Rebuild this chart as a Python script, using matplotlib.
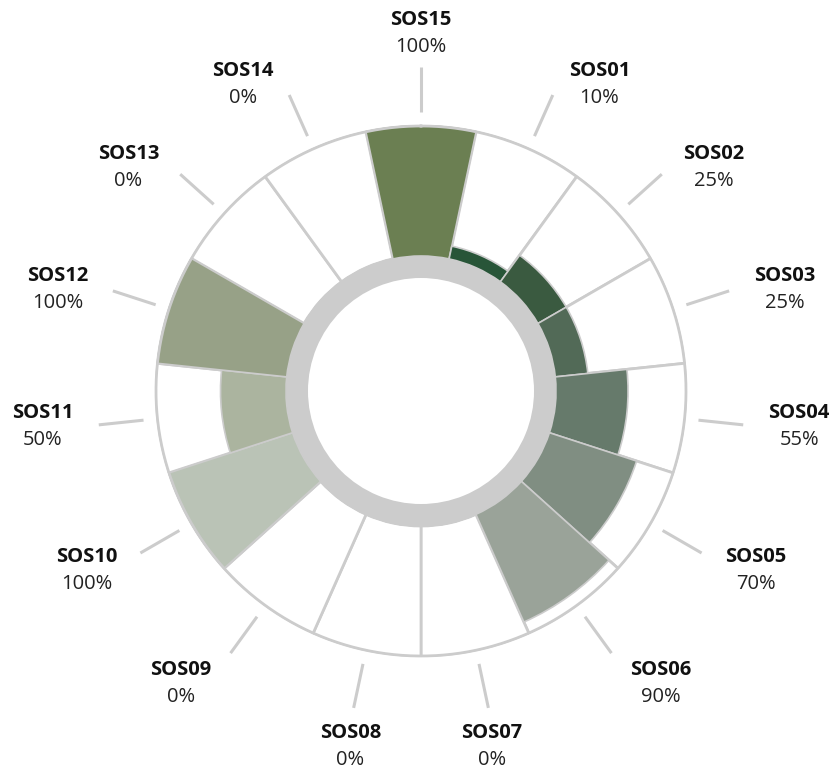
import numpy as np
import matplotlib
matplotlib.use('Agg')
import matplotlib.pyplot as plt

# categories, clockwise from the top
categories = ['SOS15', 'SOS01', 'SOS02', 'SOS03', 'SOS04', 'SOS05', 'SOS06', 'SOS07',
              'SOS08', 'SOS09', 'SOS10', 'SOS11', 'SOS12', 'SOS13', 'SOS14']
values = [100, 10, 25, 25, 55, 70, 90, 0, 0, 0, 100, 50, 100, 0, 0]
colors = ['#6b7f52', '#285538', '#3a5a40', '#526a57', '#667a6b', '#808e82', '#9aa399',
          '#ffffff', '#ffffff', '#ffffff', '#bac3b6', '#abb49f', '#97a187', '#ffffff', '#ffffff']

GRAY = '#cccccc'
# radii in pixels of the 835x770 canvas
R_HOLE = 113
R_BASE = 135
R_OUT = 266
TICK_IN, TICK_OUT = 279, 324
R_LABEL = 340

plt.rcParams['font.family'] = ['Open Sans', 'DejaVu Sans']

fig = plt.figure(figsize=(8.35, 7.7), dpi=100)
cx, cy = 421, 770 - 391
ax = fig.add_axes([(cx - R_OUT) / 835, (cy - R_OUT) / 770, 2 * R_OUT / 835, 2 * R_OUT / 770],
                  projection='polar')
ax.set_theta_zero_location('N')
ax.set_theta_direction(-1)
ax.set_ylim(0, R_OUT)
ax.set_axis_off()

n = len(categories)
theta = np.arange(n) * 2 * np.pi / n
width = 2 * np.pi / n

# white background sectors with gray outlines
ax.bar(theta, R_OUT - R_BASE, width=width, bottom=R_BASE, color='white',
       edgecolor=GRAY, linewidth=2, zorder=1)

# value bars
heights = [v / 100 * (R_OUT - R_BASE) for v in values]
ax.bar(theta, heights, width=width, bottom=R_BASE, color=colors,
       edgecolor=GRAY, linewidth=1.2, zorder=2)

# inner gray ring
ax.bar(0, R_BASE - R_HOLE, width=2 * np.pi, bottom=R_HOLE, color=GRAY,
       edgecolor='none', zorder=3)

# outer circle
circ = np.linspace(0, 2 * np.pi, 400)
ax.plot(circ, np.full_like(circ, R_OUT - 1), color=GRAY, lw=2, zorder=4, clip_on=False)

k = 0.72  # px -> points
for t, name, v in zip(theta, categories, values):
    ax.plot([t, t], [TICK_IN, TICK_OUT], color=GRAY, lw=2.2, clip_on=False,
            solid_capstyle='butt')
    deg = np.degrees(t) % 360
    s = np.cos(t)  # vertical component (up positive)
    if deg <= 20 or deg >= 340:
        dx, dy = 0, 17.5
    elif 160 <= deg <= 200:
        dx, dy = 0, -22.5
    else:
        dx = 40 if deg < 180 else -40
        dy = -4 if s > 0 else 3 + 25 * s
    ax.annotate(name, xy=(t, R_LABEL), xytext=(dx * k, (dy + 13.5) * k),
                textcoords='offset points', ha='center', va='center',
                fontsize=14.5, fontweight='bold', color='#111111', annotation_clip=False)
    ax.annotate(f'{v}%', xy=(t, R_LABEL), xytext=(dx * k, (dy - 13.5) * k),
                textcoords='offset points', ha='center', va='center',
                fontsize=14.5, color='#222222', annotation_clip=False)

fig.savefig('out.png', dpi=100, facecolor='white')
